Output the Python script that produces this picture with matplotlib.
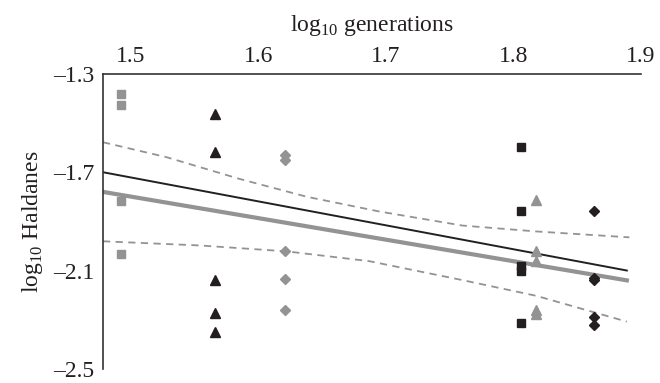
import matplotlib
matplotlib.use("Agg")
import matplotlib.pyplot as plt

plt.rcParams['font.family'] = ['Liberation Serif', 'DejaVu Serif']
plt.rcParams['mathtext.fontset'] = 'custom'
plt.rcParams['mathtext.rm'] = 'Liberation Serif'

GRAY = '#939393'
BLACK = '#231f20'

# data points per study: (x, list of y)
sq_gray_x = 1.492
sq_gray_y = [-1.383, -1.425, -1.816, -2.034]
tri_black_x = 1.566
tri_black_y = [-1.465, -1.619, -2.139, -2.272, -2.352]
dia_gray_x = 1.621
dia_gray_y = [-1.63, -1.65, -2.022, -2.135, -2.26]
sq_black_x = 1.806
sq_black_y = [-1.598, -1.856, -2.08, -2.10, -2.312]
tri_gray_x = 1.818
tri_gray_y = [-1.815, -2.02, -2.06, -2.26, -2.275]
dia_black_x = 1.863
dia_black_y = [-1.856, -2.13, -2.14, -2.288, -2.32]

# regression lines
line_x = [1.478, 1.889]
black_line_y = [-1.70, -2.10]
gray_line_y = [-1.78, -2.14]

# confidence band around gray line
upper_x = [1.478, 1.528, 1.585, 1.638, 1.695, 1.760, 1.818, 1.891]
upper_y = [-1.578, -1.639, -1.727, -1.800, -1.860, -1.917, -1.941, -1.965]
lower_x = [1.478, 1.554, 1.622, 1.687, 1.760, 1.818, 1.889]
lower_y = [-1.981, -1.998, -2.022, -2.062, -2.139, -2.203, -2.308]

xticks = [1.5, 1.6, 1.7, 1.8, 1.9]
yticks = [-1.3, -1.7, -2.1, -2.5]

fig = plt.figure(figsize=(6.6, 3.83), dpi=100)
ax = fig.add_axes([0.156, 0.037, 0.815, 0.770])

ax.plot(upper_x, upper_y, color=GRAY, lw=1.3, ls=(0, (4, 3)))
ax.plot(lower_x, lower_y, color=GRAY, lw=1.3, ls=(0, (4, 3)))
ax.plot(line_x, gray_line_y, color=GRAY, lw=3)
ax.plot(line_x, black_line_y, color=BLACK, lw=1.4)

ax.plot([sq_gray_x] * len(sq_gray_y), sq_gray_y, 's', color=GRAY, ms=6, ls='none')
ax.plot([tri_black_x] * len(tri_black_y), tri_black_y, '^', color=BLACK, ms=7, ls='none')
ax.plot([dia_gray_x] * len(dia_gray_y), dia_gray_y, 'D', color=GRAY, ms=5, ls='none')
ax.plot([sq_black_x] * len(sq_black_y), sq_black_y, 's', color=BLACK, ms=6, ls='none')
ax.plot([tri_gray_x] * len(tri_gray_y), tri_gray_y, '^', color=GRAY, ms=7, ls='none')
ax.plot([dia_black_x] * len(dia_black_y), dia_black_y, 'D', color=BLACK, ms=5, ls='none')

ax.set_xlim(1.478, 1.9)
ax.set_ylim(-2.5, -1.3)
ax.xaxis.tick_top()
ax.xaxis.set_label_position('top')
ax.set_xticks(xticks)
ax.set_xticklabels([f'{v:.1f}' for v in xticks])
ax.set_yticks(yticks)
ax.set_yticklabels([f'\u2013{abs(v):.1f}' for v in yticks])
ax.tick_params(length=0, labelsize=17, colors=BLACK, pad=6)
ax.tick_params(axis='x', pad=5)

for s in ['right', 'bottom']:
    ax.spines[s].set_visible(False)
for s in ['left', 'top']:
    ax.spines[s].set_color('#333333')
    ax.spines[s].set_linewidth(1.2)

ax.set_xlabel('log$_{10}$ generations', fontsize=17, labelpad=11, color=BLACK)
ax.set_ylabel('log$_{10}$ Haldanes', fontsize=17, labelpad=6, color=BLACK)

fig.savefig('out.png', dpi=100)
